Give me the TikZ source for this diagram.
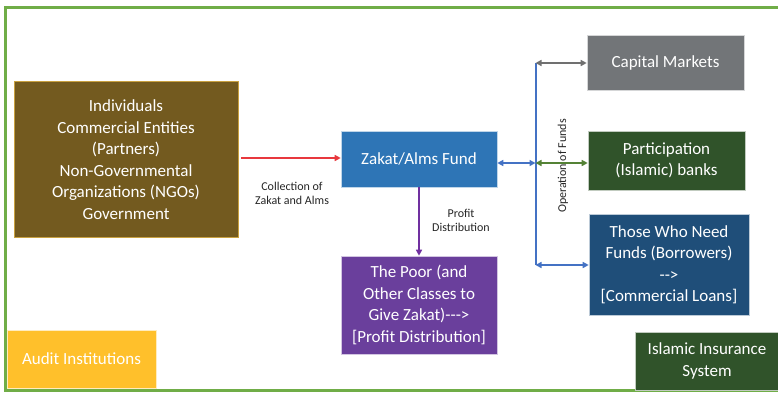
\documentclass[tikz,border=0pt]{standalone}
\usepackage{fontspec}
\setmainfont{Carlito}
\usetikzlibrary{arrows.meta}
\definecolor{frameG}{HTML}{70AD47}
\definecolor{brownF}{HTML}{735A1F}
\definecolor{brownD}{HTML}{C9A140}
\definecolor{zakatF}{HTML}{2E75B6}
\definecolor{purpF}{HTML}{6A3F9C}
\definecolor{capF}{HTML}{727578}
\definecolor{dgreenF}{HTML}{30532A}
\definecolor{navyF}{HTML}{1F4E79}
\definecolor{auditF}{HTML}{FFC02B}
\definecolor{redA}{HTML}{E8383D}
\definecolor{grayA}{HTML}{707070}
\definecolor{greenA}{HTML}{548235}
\definecolor{blueA}{HTML}{4472C4}
\definecolor{purpA}{HTML}{7030A0}
\definecolor{labelC}{HTML}{262626}
\tikzset{
  boxnode/.style={rectangle, draw=white!70!#1, line width=0.6pt, fill=#1, text=white, align=center, inner sep=2pt, font=\fontsize{17}{21.5}\selectfont},
  lbl/.style={text=labelC, align=center, font=\fontsize{12}{14.5}\selectfont},
  conn/.style={line width=2pt, -{Triangle[length=6pt,width=6pt]}},
  dconn/.style={line width=2pt, {Triangle[length=6pt,width=6pt]}-{Triangle[length=6pt,width=6pt]}},
}
\begin{document}
\begin{tikzpicture}[x=1pt,y=-1pt]
\useasboundingbox (0,0) rectangle (778,392);
\fill[white] (0,0) rectangle (778,392);
% frame
\draw[frameG, line width=3pt] (5.5,390) -- (5.5,7.5) -- (782,7.5);
\draw[frameG, line width=3pt] (4,390) -- (782,390);
% boxes
\node[boxnode=brownF, draw=brownD, minimum width=224pt, minimum height=156pt] (src) at (126,159.5)
  {Individuals\\Commercial Entities\\(Partners)\\Non-Governmental\\Organizations (NGOs)\\Government};
\node[boxnode=zakatF, minimum width=156pt, minimum height=56pt] (zakat) at (419,159) {Zakat/Alms Fund};
\node[boxnode=purpF, minimum width=156pt, minimum height=98pt] (poor) at (419,305)
  {The Poor (and\\Other Classes to\\Give Zakat)-{}-{}-{}>\\{[}Profit Distribution{]}};
\node[boxnode=capF, minimum width=157pt, minimum height=55pt] (cap) at (665.5,62.5) {Capital Markets};
\node[boxnode=dgreenF, minimum width=157pt, minimum height=59pt] (part) at (666.5,160.5) {Participation\\(Islamic) banks};
\node[boxnode=navyF, minimum width=160pt, minimum height=101pt] (those) at (669,264.5)
  {Those Who Need\\Funds (Borrowers)\\-{}->\\{[}Commercial Loans{]}};
\node[boxnode=auditF, minimum width=149pt, minimum height=58pt] (audit) at (81.5,359) {Audit Institutions};
\node[boxnode=dgreenF, minimum width=144pt, minimum height=58pt] (ins) at (707,361) {Islamic Insurance\\System};
% labels
\node[lbl] (lcol) at (292,193.5) {Collection of\\Zakat and Alms};
\node[lbl] (lprof) at (461,220.5) {Profit\\Distribution};
\node[lbl, rotate=90] (lop) at (563,166) {Operation of Funds};
% bus
\coordinate (bt) at (535.5,63);
\coordinate (bm) at (535.5,163);
\coordinate (bb) at (535.5,265);
\draw[blueA, line width=2pt] (bt) -- (bb);
% connectors
\draw[conn, redA, shorten <=3pt] (src.east |- 0,158) -- (zakat.west |- 0,158);
\draw[conn, purpA] (zakat.south) -- (poor.north);
\draw[dconn, blueA] (zakat.east |- bm) -- (bm);
\draw[dconn, grayA] (bt) -- (bt -| cap.west);
\draw[dconn, greenA] (bm) -- (bm -| part.west);
\draw[dconn, blueA] (bb) -- (bb -| those.west);
\end{tikzpicture}
\end{document}
